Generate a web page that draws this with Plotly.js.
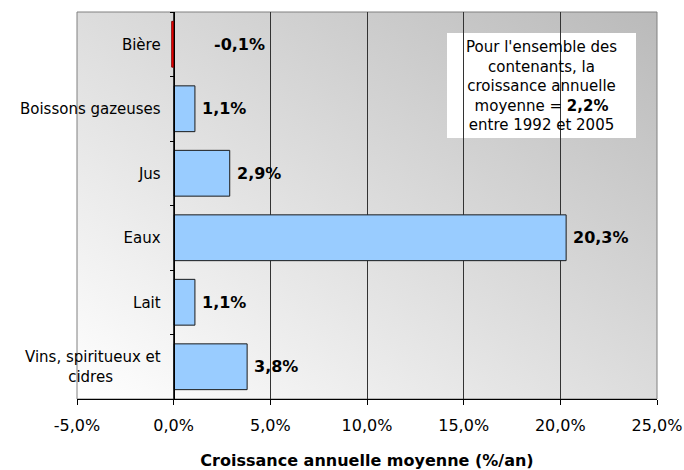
<!DOCTYPE html>
<html><head><meta charset="utf-8">
<script src="https://cdn.plot.ly/plotly-3.0.1.min.js"></script>
<style>html,body{margin:0;padding:0;background:#fff}</style>
</head><body><div id="chart" style="width:684px;height:470px"></div>
<script>
const categories = ["Bière", "Boissons gazeuses", "Jus", "Eaux", "Lait", "Vins, spiritueux et cidres"];
const categoryTickLabels = ["Bière", "Boissons gazeuses", "Jus", "Eaux", "Lait", "Vins, spiritueux et<br>cidres\u00a0\u00a0\u00a0\u00a0\u00a0\u00a0\u00a0\u00a0\u00a0\u00a0"];
const values = [-0.1, 1.1, 2.9, 20.3, 1.1, 3.8];
const valueLabels = ["-0,1%", "1,1%", "2,9%", "20,3%", "1,1%", "3,8%"];
const xTickValues = [-5, 0, 5, 10, 15, 20, 25];
const xTickLabels = ["-5,0%", "0,0%", "5,0%", "10,0%", "15,0%", "20,0%", "25,0%"];
const noteLines = ["Pour l'ensemble des", "contenants, la", "croissance annuelle", "moyenne = <b>2,2%</b>", "entre 1992 et 2005"];

const FONT = "DejaVu Sans, Verdana, sans-serif";
const W = 684, H = 470, ML = 77, MR = 27, MT = 12, MB = 71;
const PW = W - ML - MR, PH = H - MT - MB;
const xRange = [-5, 25];
const px = x => (x - ML) / PW;
const py = y => 1 - (y - MT) / PH;

const gradSvg = '<svg xmlns="http://www.w3.org/2000/svg" width="100" height="100" preserveAspectRatio="none">' +
  '<defs><linearGradient id="g" x1="0" y1="1" x2="1" y2="0">' +
  '<stop offset="0" stop-color="#ffffff"/><stop offset="1" stop-color="#bababa"/></linearGradient></defs>' +
  '<rect width="100" height="100" fill="url(#g)"/></svg>';
const gradUri = "data:image/svg+xml;base64," + btoa(gradSvg);

const trace = {
  type: "bar",
  orientation: "h",
  y: categories,
  x: values,
  marker: {
    color: values.map(v => v < 0 ? "#FF0000" : "#99CCFF"),
    line: {color: values.map(v => v < 0 ? "#800000" : "#1a1a1a"), width: 1}
  },
  hoverinfo: "none"
};

const annotations = values.map((v, i) => ({
  xref: "x", yref: "y", x: Math.max(v, 0), y: categories[i],
  text: "<b>" + valueLabels[i] + "</b>", showarrow: false,
  xanchor: "left", yanchor: "middle", xshift: v < 0 ? 38 : 5,
  font: {family: FONT, size: 16, color: "#000"}
}));

annotations.push({
  xref: "paper", yref: "paper", x: px(541.5), y: py(86.5),
  text: noteLines.join("<br>"), showarrow: false, xanchor: "center", yanchor: "middle",
  align: "center", font: {family: FONT, size: 15, color: "#000"}
});

const layout = {
  width: W, height: H,
  margin: {l: ML, r: MR, t: MT, b: MB, pad: 0},
  paper_bgcolor: "#ffffff",
  plot_bgcolor: "rgba(0,0,0,0)",
  font: {family: FONT, size: 15, color: "#000"},
  showlegend: false,
  bargap: 0.29,
  xaxis: {
    range: xRange, tickvals: xTickValues, ticktext: xTickLabels,
    showgrid: true, gridcolor: "#333333", gridwidth: 1,
    zeroline: false, showline: true, linecolor: "#000", linewidth: 1,
    ticks: "outside", ticklen: 5, tickcolor: "#000",
    ticklabelstandoff: 7,
    tickfont: {family: FONT, size: 16, color: "#000"},
    title: {text: "<b>Croissance annuelle moyenne (%/an)</b>", font: {family: FONT, size: 16, color: "#000"}, standoff: 21},
    fixedrange: true
  },
  yaxis: {
    type: "category", autorange: "reversed",
    anchor: "free", position: (0 - xRange[0]) / (xRange[1] - xRange[0]),
    tickvals: categories, ticktext: categoryTickLabels,
    showgrid: false, zeroline: false, showline: true, linecolor: "#000", linewidth: 1,
    ticks: "outside", ticklen: 4, tickcolor: "#000", tickson: "boundaries",
    ticklabelstandoff: 10,
    tickfont: {family: FONT, size: 15, color: "#000"},
    fixedrange: true
  },
  images: [{
    source: gradUri, xref: "paper", yref: "paper", x: 0, y: 1, sizex: 1, sizey: 1,
    sizing: "stretch", xanchor: "left", yanchor: "top", layer: "below"
  }],
  shapes: [
    {type: "rect", xref: "paper", yref: "paper", x0: 0, x1: 1, y0: 0, y1: 1,
     line: {color: "#808080", width: 1}, fillcolor: "rgba(0,0,0,0)", layer: "between"},
    {type: "rect", xref: "paper", yref: "paper", x0: px(447), x1: px(636), y0: py(138), y1: py(33),
     line: {width: 0}, fillcolor: "#ffffff", layer: "between"}
  ],
  annotations: annotations
};

Plotly.newPlot("chart", [trace], layout, {displayModeBar: false, staticPlot: true});
</script>
</body></html>
